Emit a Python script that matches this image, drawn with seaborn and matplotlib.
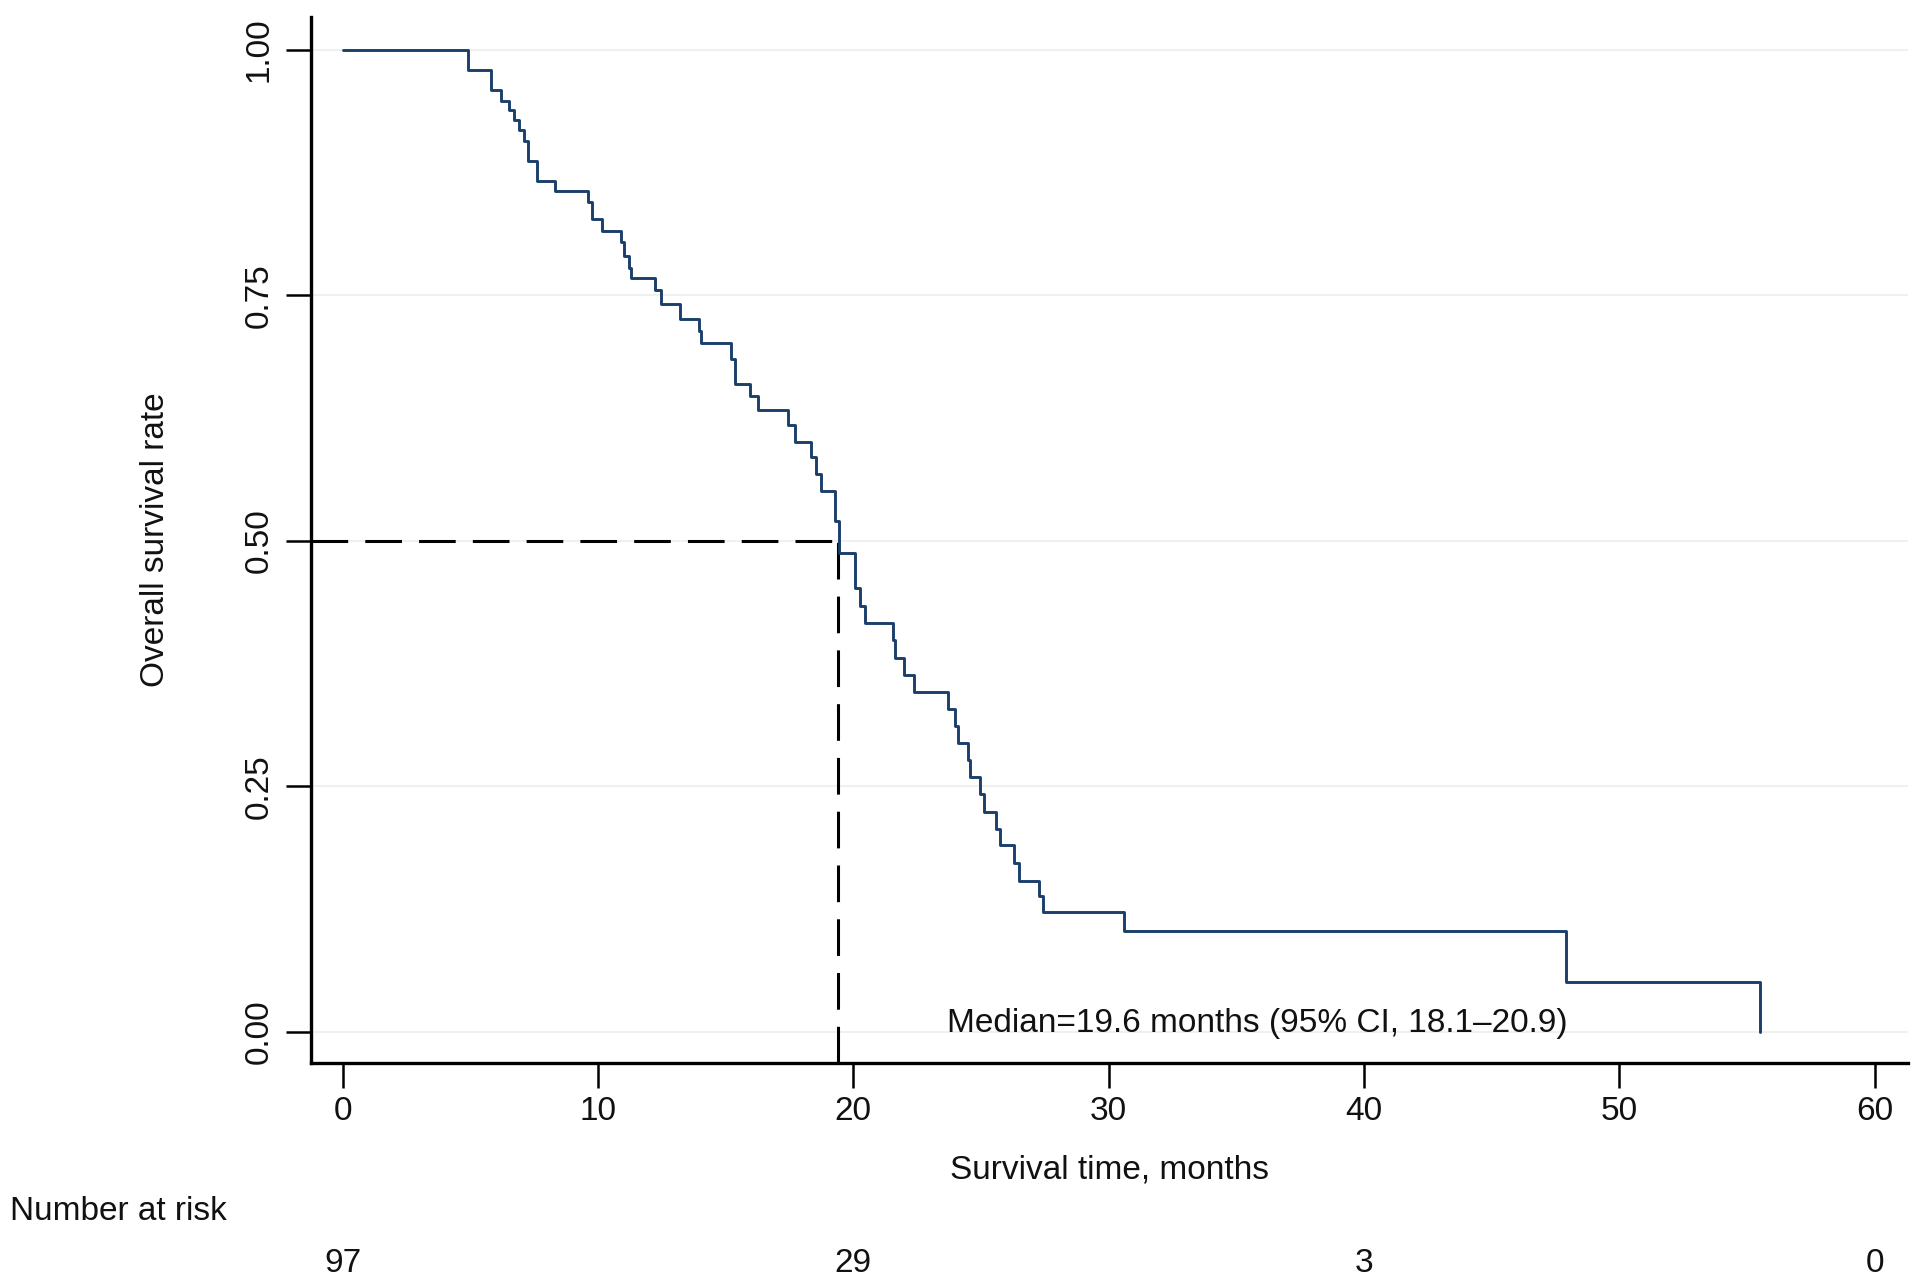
import matplotlib
matplotlib.use("Agg")
import matplotlib.pyplot as plt
import matplotlib.transforms as mtransforms
import seaborn as sns
import pandas as pd

# ---- data ----
times = [0, 4.9, 5.8, 6.2, 6.5, 6.7, 6.9, 7.1, 7.25, 7.6, 8.3, 9.6, 9.75, 10.15,
         10.9, 11.0, 11.2, 11.3, 12.25, 12.45, 13.2, 13.95, 14.05, 15.2, 15.35,
         15.95, 16.25, 17.45, 17.7, 18.35, 18.55, 18.75, 19.3, 19.45, 20.05,
         20.28, 20.47, 21.57, 21.65, 21.97, 22.39, 23.71, 24.0, 24.1, 24.5,
         24.55, 24.97, 25.1, 25.6, 25.76, 26.29, 26.49, 27.28, 27.41, 30.6,
         47.9, 55.5]
survival = [1.0, 0.979, 0.959, 0.948, 0.938, 0.928, 0.918, 0.907, 0.887, 0.866,
            0.856, 0.845, 0.828, 0.815, 0.804, 0.790, 0.778, 0.767, 0.755, 0.741,
            0.726, 0.714, 0.701, 0.685, 0.660, 0.647, 0.633, 0.618, 0.601, 0.585,
            0.568, 0.551, 0.520, 0.488, 0.452, 0.434, 0.416, 0.399, 0.381, 0.363,
            0.346, 0.329, 0.311, 0.294, 0.277, 0.260, 0.242, 0.224, 0.207, 0.190,
            0.172, 0.154, 0.138, 0.122, 0.103, 0.051, 0.0]
median_time = 19.4
median_surv = 0.5
x_ticks = [0, 10, 20, 30, 40, 50, 60]
y_ticks = [0.00, 0.25, 0.50, 0.75, 1.00]
risk_times = [0, 20, 40, 60]
risk_counts = [97, 29, 3, 0]
median_text = "Median=19.6 months (95% CI, 18.1\u201320.9)"

sns.set_theme(style="ticks")
plt.rcParams['font.family'] = ['Liberation Sans', 'DejaVu Sans']

FS = 24
fig = plt.figure(figsize=(19.13, 12.76), dpi=100)
ax = fig.add_axes([0.1624, 0.1673, 0.835, 0.8193])

df = pd.DataFrame({"time": times, "surv": survival})
sns.lineplot(data=df, x="time", y="surv", drawstyle="steps-post",
             estimator=None, color="#1b3f6b", lw=2.1, ax=ax, zorder=3)

xmin, xmax = -1.25, 61.3
ymin, ymax = -0.031, 1.033
ax.set_xlim(xmin, xmax)
ax.set_ylim(ymin, ymax)

# median reference lines
dash = (0, (12, 5.6))
ax.plot([xmin, median_time], [median_surv, median_surv], color="black",
        lw=2.2, linestyle=dash, zorder=2)
ax.plot([median_time, median_time], [ymin, median_surv], color="black",
        lw=2.2, linestyle=dash, zorder=2)

ax.text(23.65, 0.009, median_text, fontsize=FS, ha="left", va="center",
        color="#111111")

# axes styling
for s in ["top", "right"]:
    ax.spines[s].set_visible(False)
for s in ["left", "bottom"]:
    ax.spines[s].set_linewidth(2.4)
    ax.spines[s].set_color("black")

ax.set_xticks(x_ticks)
ax.set_yticks(y_ticks)
ax.set_yticklabels([f"{v:.2f}" for v in y_ticks], rotation=90, va="center")
ax.tick_params(axis="both", direction="out", length=18, width=1.8,
               color="black", labelsize=FS, labelcolor="#111111")
ax.tick_params(axis="y", pad=8)
ax.tick_params(axis="x", pad=6)

ax.yaxis.grid(True, color="#eeeeee", lw=1.2, zorder=0)
ax.xaxis.grid(False)
ax.set_axisbelow(True)

ax.set_xlabel("Survival time, months", fontsize=FS, color="#111111", labelpad=20)
ax.set_ylabel("Overall survival rate", fontsize=FS, color="#111111", labelpad=52)

# number at risk table
fig.text(0.005, 1 - 1212 / 1276, "Number at risk", fontsize=FS,
         ha="left", va="center", color="#111111")
trans = mtransforms.blended_transform_factory(ax.transData, fig.transFigure)
for t, n in zip(risk_times, risk_counts):
    ax.text(t, 1 - 1263 / 1276, str(n), fontsize=FS, ha="center", va="center",
            transform=trans, color="#111111")

fig.savefig("out.png", dpi=100, facecolor="white")
